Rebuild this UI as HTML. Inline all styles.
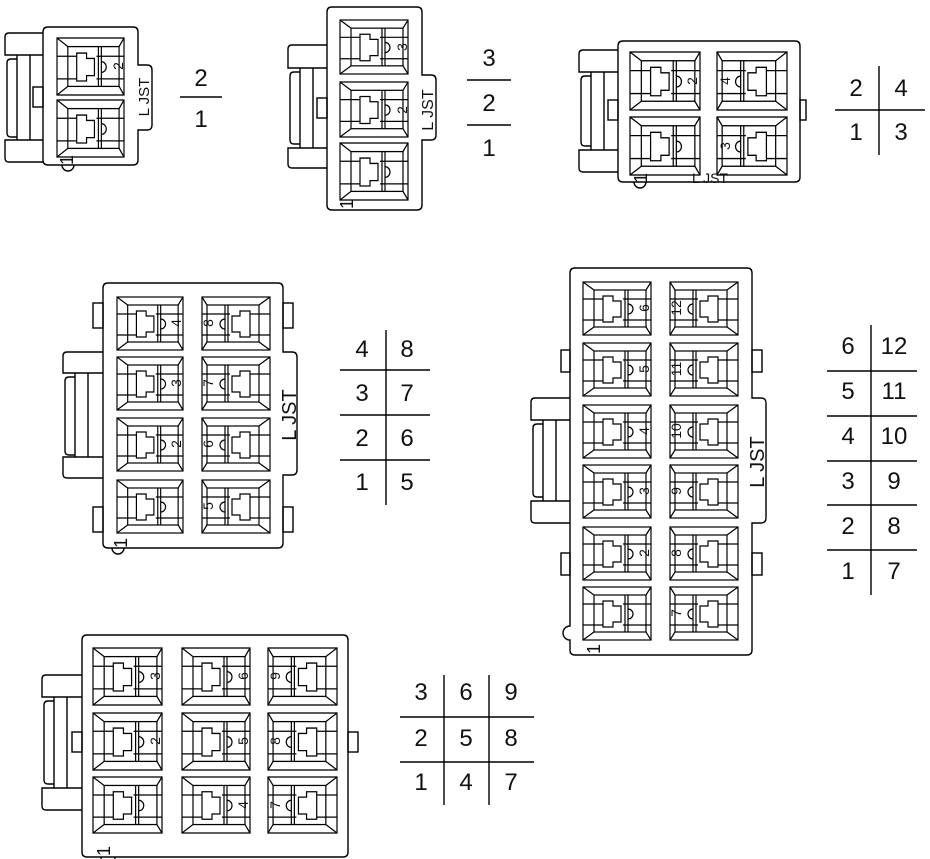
<!DOCTYPE html>
<html><head><meta charset="utf-8"><style>
html,body{margin:0;padding:0;background:#fff;}
svg{display:block;}
text{font-family:"Liberation Sans",sans-serif;fill:#111;}
.t{font-size:24px;text-anchor:middle;}
.n{font-size:14px;text-anchor:middle;}
.j{font-size:20px;text-anchor:middle;}
</style></head><body>
<svg width="930" height="859" viewBox="0 0 930 859" xmlns="http://www.w3.org/2000/svg">
<defs>
<symbol id="c" viewBox="0 0 68 53" preserveAspectRatio="none" overflow="visible">
<g fill="none" stroke="#000" stroke-width="1.2">
<rect x="0" y="0" width="68" height="53"/>
<rect x="11" y="8" width="52" height="37"/>
<path d="M0,0L11,8M68,0L63,8M0,53L11,45M68,53L63,45"/>
<path d="M0,17H20M0,38H20M40,17H68M40,38H68"/>
<path d="M42,8V45M45,8V45"/>
<path d="M20,14H30V19H38V35H30V40H20Z"/>
<path d="M45,22A5,5 0 0 1 45,32"/>
</g>
</symbol>
</defs>
<g fill="none" stroke="#000" stroke-width="1.4">
<path d="M48,27H133Q138,27 138,32V65H147Q152,65 152,70V125Q152,130 147,130H138V160Q138,165 133,165H48Q43,165 43,160V32Q43,27 48,27Z"/>
<path d="M62,165A6,6 0 0 0 74,165"/>
<path d="M43,33H9Q5,33 5,37V55H43M43,140H5V158Q5,162 9,162H43M17,59H11Q7,59 7,63V133Q7,137 11,137H17M17,55V140M30,55V140"/>
<rect x="33" y="87" width="10" height="20"/>
<path d="M332,7H417Q422,7 422,12V75H431Q436,75 436,80V135Q436,140 431,140H422V205Q422,210 417,210H332Q327,210 327,205V12Q327,7 332,7Z"/>
<path d="M327,45H292Q288,45 288,49V68H327M327,148H288V164Q288,168 292,168H327M300,72H294Q290,72 290,76V140Q290,144 294,144H300M300,68V148M313,68V148"/>
<rect x="317" y="98" width="10" height="20"/>
<path d="M623,41H795Q800,41 800,46V177Q800,182 795,182H623Q618,182 618,177V46Q618,41 623,41Z"/>
<path d="M634,182A6,6 0 0 0 646,182"/>
<rect x="800" y="100" width="6" height="20"/>
<path d="M618,50H583Q579,50 579,54V72H618M618,150H579V168Q579,172 583,172H618M591,76H585Q581,76 581,80V142Q581,146 585,146H591M591,72V150M604,72V150"/>
<rect x="608" y="100" width="10" height="20"/>
<path d="M108,283H278Q283,283 283,288V352H292Q297,352 297,357V470Q297,475 292,475H283V543Q283,548 278,548H108Q103,548 103,543V288Q103,283 108,283Z"/>
<path d="M112,548A6,6 0 0 0 124,548"/>
<rect x="93" y="303" width="10" height="25"/><rect x="93" y="507" width="10" height="25"/>
<rect x="283" y="303" width="10" height="25"/><rect x="283" y="507" width="10" height="25"/>
<path d="M103,352H67Q63,352 63,356V373H103M103,457H63V474Q63,478 67,478H103M75,377H69Q65,377 65,381V451Q65,455 69,455H75M75,373V457M88,373V457"/>
<path d="M575,268H747Q752,268 752,273V398H761Q766,398 766,403V518Q766,523 761,523H752V650Q752,655 747,655H575Q570,655 570,650V640A7,7 0 0 1 570,626V273Q570,268 575,268Z"/>
<rect x="561" y="350" width="9" height="22"/><rect x="561" y="553" width="9" height="22"/>
<rect x="752" y="350" width="10" height="22"/><rect x="752" y="553" width="10" height="22"/>
<path d="M570,398H535Q531,398 531,402V420H570M570,501H531V519Q531,523 535,523H570M543,424H537Q533,424 533,428V493Q533,497 537,497H543M543,420V501M556,420V501"/>
<path d="M87,635H343Q348,635 348,640V852Q348,857 343,857H87Q82,857 82,852V640Q82,635 87,635Z"/>
<path d="M101,857A7,7 0 0 0 115,857"/>
<rect x="72" y="732" width="10" height="20"/><rect x="348" y="732" width="10" height="20"/>
<path d="M82,675H46Q42,675 42,679V697H82M82,788H42V806Q42,810 46,810H82M54,701H48Q44,701 44,705V780Q44,784 48,784H54M54,697V788M67,697V788"/>
<path d="M180,97H222M467,80H511M467,125H511M879,66V155M835,110H925"/>
<path d="M386,330V505M340,370H430M340,415H430M340,460H430"/>
<path d="M871,325V595M827,371H917M827,416H917M827,461H917M827,505H917M827,550H917"/>
<path d="M444,675V805M489,675V805M400,717H534M400,762H534"/>
</g>
<use href="#c" x="57" y="38" width="67" height="57"/><use href="#c" x="57" y="100" width="67" height="57"/>
<use href="#c" x="340" y="20" width="68" height="54"/><use href="#c" x="340" y="82" width="68" height="55"/><use href="#c" x="340" y="143" width="68" height="57"/>
<use href="#c" x="630" y="52" width="70" height="58"/><use href="#c" x="630" y="117" width="70" height="58"/>
<g transform="translate(787,52) scale(-1,1)"><use href="#c" x="0" y="0" width="70" height="58"/><use href="#c" x="0" y="65" width="70" height="58"/></g>
<use href="#c" x="117" y="297" width="66" height="53"/><use href="#c" x="117" y="357" width="66" height="53"/><use href="#c" x="117" y="418" width="66" height="53"/><use href="#c" x="117" y="480" width="66" height="53"/>
<g transform="translate(270,0) scale(-1,1)"><use href="#c" x="0" y="297" width="68" height="53"/><use href="#c" x="0" y="357" width="68" height="53"/><use href="#c" x="0" y="418" width="68" height="53"/><use href="#c" x="0" y="480" width="68" height="53"/></g>
<use href="#c" x="583" y="282" width="68" height="53"/><use href="#c" x="583" y="343" width="68" height="53"/><use href="#c" x="583" y="405" width="68" height="53"/><use href="#c" x="583" y="465" width="68" height="53"/><use href="#c" x="583" y="527" width="68" height="53"/><use href="#c" x="583" y="587" width="68" height="53"/>
<g transform="translate(738,0) scale(-1,1)"><use href="#c" x="0" y="282" width="68" height="53"/><use href="#c" x="0" y="343" width="68" height="53"/><use href="#c" x="0" y="405" width="68" height="53"/><use href="#c" x="0" y="465" width="68" height="53"/><use href="#c" x="0" y="527" width="68" height="53"/><use href="#c" x="0" y="587" width="68" height="53"/></g>
<use href="#c" x="93" y="648" width="69" height="57"/><use href="#c" x="93" y="713" width="69" height="57"/><use href="#c" x="93" y="777" width="69" height="56"/>
<use href="#c" x="182" y="648" width="68" height="57"/><use href="#c" x="182" y="713" width="68" height="57"/><use href="#c" x="182" y="777" width="68" height="56"/>
<g transform="translate(337,0) scale(-1,1)"><use href="#c" x="0" y="648" width="69" height="57"/><use href="#c" x="0" y="713" width="69" height="57"/><use href="#c" x="0" y="777" width="69" height="56"/></g>
<g class="n">
<text transform="translate(123,66) rotate(-90)">2</text>
<text transform="translate(407,47) rotate(-90)">3</text>
<text transform="translate(407,110) rotate(-90)">2</text>
<text transform="translate(697,81) rotate(-90)">2</text>
<text transform="translate(730,81) rotate(-90)">4</text>
<text transform="translate(730,146) rotate(-90)">3</text>
<text transform="translate(181,323) rotate(-90)">4</text>
<text transform="translate(181,383) rotate(-90)">3</text>
<text transform="translate(181,444) rotate(-90)">2</text>
<text transform="translate(213,323) rotate(-90)">8</text>
<text transform="translate(213,383) rotate(-90)">7</text>
<text transform="translate(213,444) rotate(-90)">6</text>
<text transform="translate(213,506) rotate(-90)">5</text>
<text transform="translate(649,308) rotate(-90)">6</text>
<text transform="translate(649,369) rotate(-90)">5</text>
<text transform="translate(649,431) rotate(-90)">4</text>
<text transform="translate(649,491) rotate(-90)">3</text>
<text transform="translate(649,553) rotate(-90)">2</text>
<text transform="translate(681,308) rotate(-90)">12</text>
<text transform="translate(681,369) rotate(-90)">11</text>
<text transform="translate(681,431) rotate(-90)">10</text>
<text transform="translate(681,491) rotate(-90)">9</text>
<text transform="translate(681,553) rotate(-90)">8</text>
<text transform="translate(681,613) rotate(-90)">7</text>
<text transform="translate(160,676) rotate(-90)">3</text>
<text transform="translate(160,741) rotate(-90)">2</text>
<text transform="translate(248,676) rotate(-90)">6</text>
<text transform="translate(248,741) rotate(-90)">5</text>
<text transform="translate(248,805) rotate(-90)">4</text>
<text transform="translate(280,676) rotate(-90)">9</text>
<text transform="translate(280,741) rotate(-90)">8</text>
<text transform="translate(280,805) rotate(-90)">7</text>
</g>
<g class="n" style="font-size:18px">
<text transform="translate(73,160) rotate(-90)">1</text>
<text transform="translate(353,204) rotate(-90)">1</text>
<text transform="translate(647,178) rotate(-90)">1</text>
<text transform="translate(127,543) rotate(-90)">1</text>
<text transform="translate(600,649) rotate(-90)">1</text>
<text transform="translate(110,851) rotate(-90)">1</text>
</g>
<text class="n" transform="translate(149,97) rotate(-90)" style="font-size:15px">L JST</text>
<text class="n" transform="translate(433,110) rotate(-90)" style="font-size:16px">L JST</text>
<text class="n" x="710" y="183" style="font-size:14px">L JST</text>
<text class="j" transform="translate(296,415) rotate(-90)">L JST</text>
<text class="j" transform="translate(764,462) rotate(-90)">L JST</text>
<g class="t">
<text x="201" y="86">2</text><text x="201" y="127">1</text>
<text x="489" y="66">3</text><text x="489" y="111">2</text><text x="489" y="156">1</text>
<text x="856" y="96">2</text><text x="901" y="96">4</text><text x="856" y="140">1</text><text x="901" y="140">3</text>
<text x="362" y="357">4</text><text x="407" y="357">8</text>
<text x="362" y="401">3</text><text x="407" y="401">7</text>
<text x="362" y="446">2</text><text x="407" y="446">6</text>
<text x="362" y="490">1</text><text x="407" y="490">5</text>
<text x="848" y="354">6</text><text x="894" y="354">12</text>
<text x="848" y="399">5</text><text x="894" y="399">11</text>
<text x="848" y="444">4</text><text x="894" y="444">10</text>
<text x="848" y="489">3</text><text x="894" y="489">9</text>
<text x="848" y="534">2</text><text x="894" y="534">8</text>
<text x="848" y="579">1</text><text x="894" y="579">7</text>
<text x="421" y="700">3</text><text x="466" y="700">6</text><text x="511" y="700">9</text>
<text x="421" y="746">2</text><text x="466" y="746">5</text><text x="511" y="746">8</text>
<text x="421" y="790">1</text><text x="466" y="790">4</text><text x="511" y="790">7</text>
</g>
</svg>
</body></html>
